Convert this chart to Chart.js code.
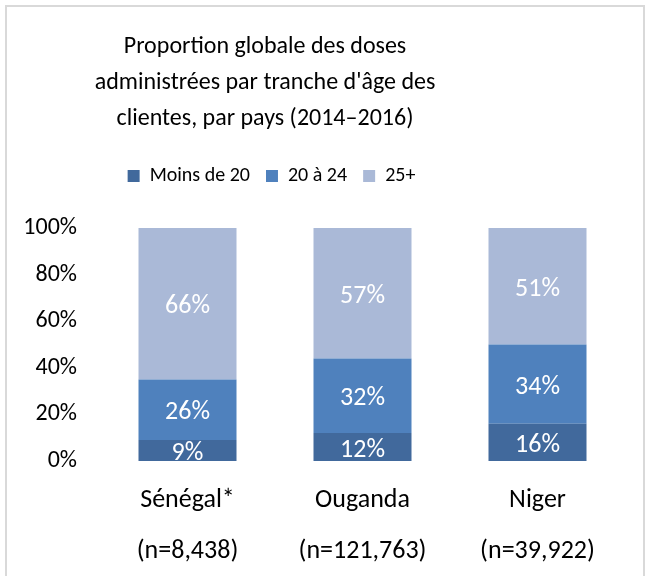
<!DOCTYPE html>
<html lang="fr">
<head>
    <meta charset="UTF-8">
    <title>Proportion globale des doses</title>
    <script src="https://cdn.jsdelivr.net/npm/chart.js"></script>
    <style>
        body {
            margin: 0;
            background: #ffffff;
            font-family: Carlito, Lato, sans-serif;
        }
        .frame {
            position: absolute;
            left: 5px;
            top: 5px;
            width: 640px;
            height: 600px;
            border: 2px solid #d9d9d9;
            box-sizing: border-box;
            pointer-events: none;
        }
        .chart-container {
            position: absolute;
            left: 0;
            top: 0;
            width: 649px;
            height: 576px;
        }
    </style>
</head>
<body>
    <div class="chart-container">
        <canvas id="chart"></canvas>
    </div>
    <div class="frame"></div>

    <script>
        const countries = ['Sénégal*', 'Ouganda', 'Niger'];
        const sampleSizes = ['(n=8,438)', '(n=121,763)', '(n=39,922)'];
        const seriesNames = ['Moins de 20', '20 à 24', '25+'];
        const under20 = [9, 12, 16];
        const age20to24 = [26, 32, 34];
        const age25plus = [66, 57, 51];
        const yTicks = [0, 20, 40, 60, 80, 100];

        const colors = ['#41699c', '#4f81bd', '#aab9d7'];
        const fontFamily = 'Carlito, Lato, sans-serif';

        // white value labels in the middle of each segment
        const segmentLabels = {
            id: 'segmentLabels',
            afterDatasetsDraw(chart) {
                const ctx = chart.ctx;
                ctx.save();
                ctx.font = '26px ' + fontFamily;
                ctx.fillStyle = '#ffffff';
                ctx.textAlign = 'center';
                ctx.textBaseline = 'middle';
                chart.data.datasets.forEach((ds, i) => {
                    chart.getDatasetMeta(i).data.forEach((bar, j) => {
                        const top = Math.max(bar.y, chart.chartArea.top);
                        const y = (top + bar.base) / 2;
                        ctx.fillText(ds.data[j] + '%', bar.x, y + 3);
                    });
                });
                ctx.restore();
            }
        };

        // title + legend sit left of the page centre in the original, legend has extra room below
        const layoutTweaks = {
            id: 'layoutTweaks',
            afterInit(chart) {
                const legend = chart.legend;
                const fit = legend.fit;
                legend.fit = function () {
                    fit.call(this);
                    this.height = 78;
                };
            },
            afterLayout(chart) {
                chart.titleBlock.left = 0;
                chart.titleBlock.right = 530;
                chart.legend.left = 0;
                chart.legend.right = 543;
            }
        };

        const series = [under20, age20to24, age25plus];

        new Chart(document.getElementById('chart'), {
            type: 'bar',
            data: {
                labels: countries.map((c, i) => [c, sampleSizes[i]]),
                datasets: series.map((values, i) => ({
                    label: seriesNames[i],
                    data: values,
                    backgroundColor: colors[i],
                    borderWidth: 0,
                    categoryPercentage: 1,
                    barPercentage: 0.56
                }))
            },
            options: {
                responsive: true,
                maintainAspectRatio: false,
                animation: false,
                layout: { padding: { left: 5, right: 24, top: 29, bottom: 0 } },
                plugins: {
                    title: {
                        display: true,
                        text: ['Proportion globale des doses',
                               "administrées par tranche d'âge des",
                               'clientes, par pays (2014–2016)'],
                        color: '#000000',
                        font: { family: fontFamily, size: 24, weight: 'normal', lineHeight: 1.5 },
                        padding: { top: 0, bottom: 13 }
                    },
                    legend: {
                        display: true,
                        position: 'top',
                        labels: {
                            color: '#000000',
                            font: { family: fontFamily, size: 20 },
                            boxWidth: 12,
                            boxHeight: 12,
                            padding: 16
                        }
                    },
                    tooltip: { enabled: false }
                },
                scales: {
                    x: {
                        stacked: true,
                        afterFit: (scale) => { scale.height = 115; },
                        grid: { display: false },
                        border: { display: false },
                        ticks: {
                            color: '#000000',
                            font: { family: fontFamily, size: 26, lineHeight: 1.96 },
                            padding: 6
                        }
                    },
                    y: {
                        stacked: true,
                        min: 0,
                        max: 100,
                        afterFit: (scale) => { scale.width = 95; },
                        afterBuildTicks: (scale) => {
                            scale.ticks = yTicks.map(v => ({ value: v }));
                        },
                        grid: { display: false },
                        border: { display: false },
                        ticks: {
                            color: '#000000',
                            font: { family: fontFamily, size: 24 },
                            padding: 15,
                            callback: (v) => v + '%'
                        }
                    }
                }
            },
            plugins: [segmentLabels, layoutTweaks]
        });
    </script>
</body>
</html>
